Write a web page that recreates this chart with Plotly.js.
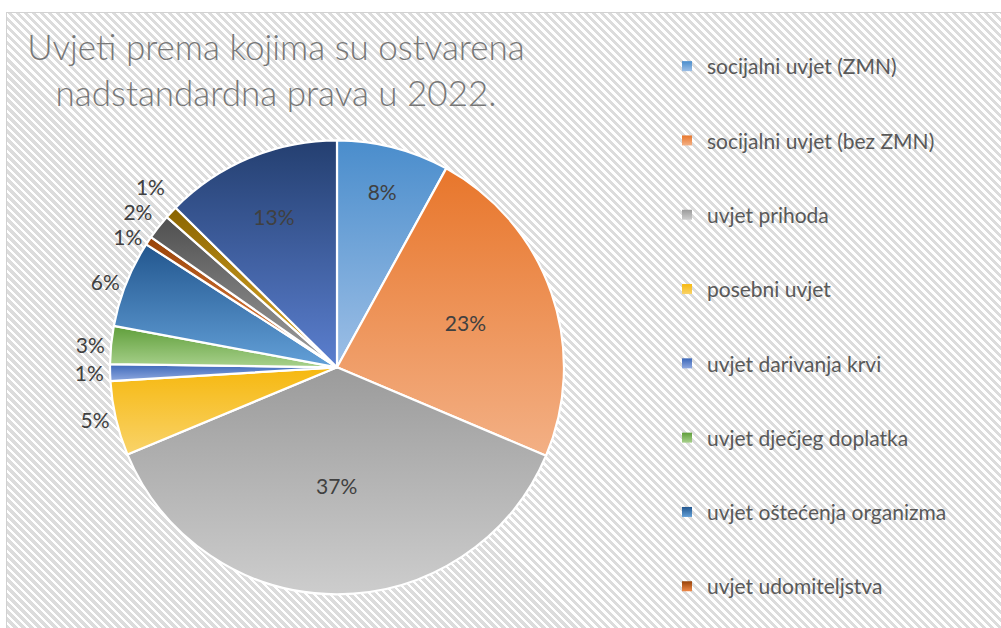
<!DOCTYPE html>
<html><head><meta charset="utf-8">
<script src="https://cdn.plot.ly/plotly-3.0.1.min.js"></script>
<style>
html,body{margin:0;padding:0;background:#fff;width:1001px;height:628px;overflow:hidden;}
#bg{position:absolute;left:6px;top:12px;width:1001px;height:628px;border-left:1.5px solid #d2d2d2;border-top:1.5px solid #d2d2d2;
background:repeating-linear-gradient(45deg,#ffffff 0px,#ffffff 2.6px,#dcdcdc 2.6px,#dcdcdc 5.66px);}
#chart{position:absolute;left:0;top:0;width:1001px;height:628px;}
</style></head>
<body><div id="bg"></div><div id="chart"></div>
<script>
// Categories (clockwise from 12 o'clock)
const categories = [
  'socijalni uvjet (ZMN)',
  'socijalni uvjet (bez ZMN)',
  'uvjet prihoda',
  'posebni uvjet',
  'uvjet darivanja krvi',
  'uvjet dječjeg doplatka',
  'uvjet oštećenja organizma',
  'uvjet udomiteljstva',
  'ostali uvjeti (1)',
  'ostali uvjeti (2)',
  'ostali uvjeti (3)'
];
// Shares in percent
const values = [8.0, 23.4, 37.4, 5.3, 1.2, 2.7, 6.2, 0.6, 1.8, 0.9, 12.6];
// Number of legend entries visible in the reference
const legendCount = 8;

// Styles
const colorsMid    = ['#5b9bd5','#ed7d31','#a5a5a5','#ffc000','#4472c4','#70ad47','#3f78b5','#b4541a','#6f6f6f','#a57c00','#3a5899'];
const colorsTop    = ['#4a8dcc','#e8762b','#9b9b9b','#f6b80f','#3c67b8','#5f9e3a','#22568e','#974208','#4f4f4f','#8a6400','#243f70'];
const colorsBottom = ['#9dbfe6','#f3b085','#cdcdcd','#f9d369','#8fa9e0','#a8d18c','#63a0d8','#f08a4a','#a0a0a0','#e5b12c','#5b7fcf'];
const textPos = ['inside','inside','inside','outside','outside','outside','outside','outside','outside','outside','inside'];

const W = 1001, H = 628;
const fontFam = 'Lato, "Open Sans", sans-serif';

const pie = {
  type: 'pie',
  labels: categories,
  values: values,
  sort: false,
  direction: 'clockwise',
  rotation: 0,
  showlegend: false,
  domain: {x: [0.1099, 0.5634], y: [0.0536, 0.7766]},
  marker: {colors: colorsMid, line: {color: '#ffffff', width: 2.2}},
  texttemplate: '%{percent:.0%}',
  textposition: textPos,
  insidetextorientation: 'horizontal',
  textfont: {family: fontFam, size: 21, color: '#404040'},
  outsidetextfont: {family: fontFam, size: 21, color: '#404040'},
  hoverinfo: 'label+percent'
};

const legendTraces = categories.slice(0, legendCount).map((c, i) => ({
  type: 'scatter', mode: 'markers',
  x: [null], y: [null],
  name: c, legendgroup: 'g' + i,
  marker: {symbol: 'square', size: 10, color: colorsMid[i]},
  showlegend: true, hoverinfo: 'skip'
}));

const layout = {
  width: W, height: H,
  margin: {l: 0, r: 0, t: 0, b: 0},
  paper_bgcolor: 'rgba(0,0,0,0)',
  plot_bgcolor: 'rgba(0,0,0,0)',
  xaxis: {visible: false}, yaxis: {visible: false},
  title: {
    text: 'Uvjeti prema kojima su ostvarena<br>nadstandardna prava u 2022.',
    x: 276 / W, xanchor: 'center', xref: 'paper',
    y: 1 - 60 / H, yanchor: 'top', yref: 'paper',
    font: {family: fontFam, size: 35, color: '#777777', weight: 300}
  },
  legend: {
    x: 667 / W, xanchor: 'left',
    y: 1 - 46 / H, yanchor: 'top',
    bgcolor: 'rgba(0,0,0,0)', borderwidth: 0,
    tracegroupgap: 44,
    font: {family: fontFam, size: 21, color: '#595959'}
  }
};

Plotly.newPlot('chart', [pie].concat(legendTraces), layout, {staticPlot: true}).then(gd => {
  const ns = 'http://www.w3.org/2000/svg';
  const svg = gd.querySelector('svg.main-svg');
  let defs = svg.querySelector('defs');
  if (!defs) { defs = document.createElementNS(ns, 'defs'); svg.insertBefore(defs, svg.firstChild); }
  const mk = (id, top, bot) => {
    const g = document.createElementNS(ns, 'linearGradient');
    g.setAttribute('id', id);
    g.setAttribute('x1', '0'); g.setAttribute('y1', '0');
    g.setAttribute('x2', '0'); g.setAttribute('y2', '1');
    [[0, top], [1, bot]].forEach(([o, c]) => {
      const s = document.createElementNS(ns, 'stop');
      s.setAttribute('offset', o); s.setAttribute('stop-color', c);
      g.appendChild(s);
    });
    defs.appendChild(g);
  };
  gd.querySelectorAll('g.slice').forEach((sl, i) => {
    mk('pg' + i, colorsTop[i], colorsBottom[i]);
    const p = sl.querySelector('path.surface');
    if (p) p.style.fill = 'url(#pg' + i + ')';
  });
  gd.querySelectorAll('path.textline').forEach(p => p.style.display = 'none');
  gd.querySelectorAll('g.legend g.traces').forEach((t, i) => {
    mk('lg' + i, colorsTop[i], colorsBottom[i]);
    const pt = t.querySelector('path.scatterpts');
    if (pt) pt.style.fill = 'url(#lg' + i + ')';
  });
});
</script>
</body></html>
